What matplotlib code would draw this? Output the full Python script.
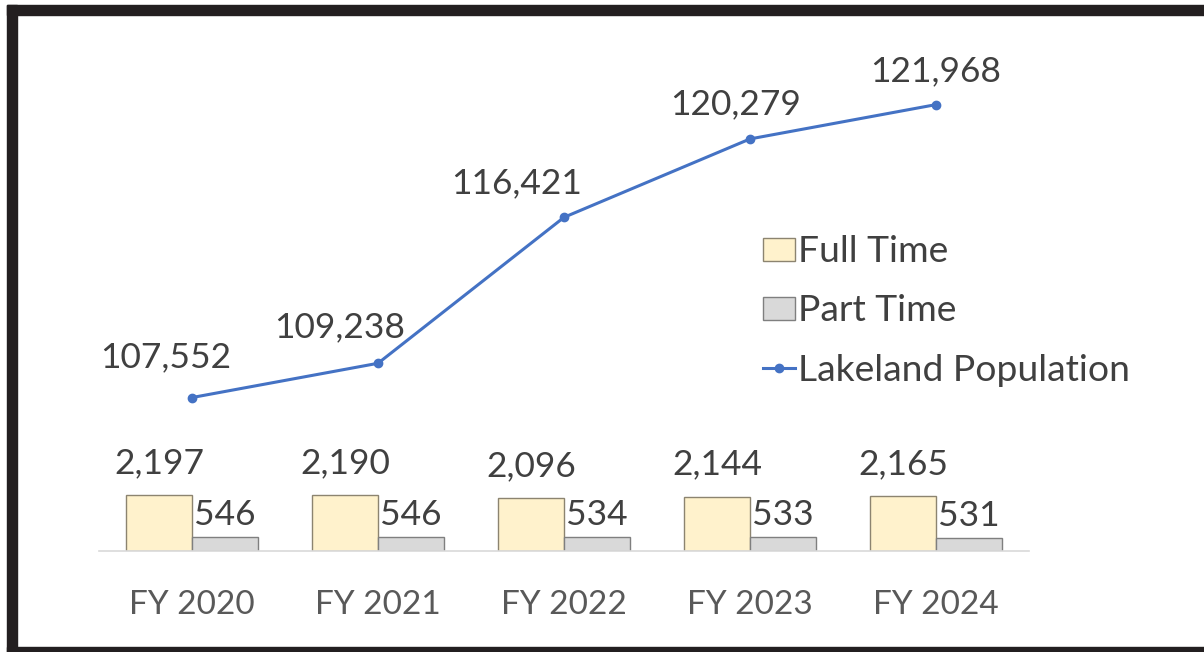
import matplotlib.pyplot as plt
from matplotlib.patches import Rectangle
import numpy as np

plt.rcParams['font.family'] = ['Lato', 'DejaVu Sans']

years = ["FY 2020", "FY 2021", "FY 2022", "FY 2023", "FY 2024"]
full_time = [2197, 2190, 2096, 2144, 2165]
part_time = [546, 546, 534, 533, 531]
population = [107552, 109238, 116421, 120279, 121968]

# label nudges (pixels) for the population labels, as placed in the original
pop_dx = [-26, -38, -47, -14, 0]
pop_dy = [40, 36, 34, 35, 33]

text_col = '#404040'
fs = 25.5

fig = plt.figure(figsize=(12.04, 6.52), dpi=100)
ax = fig.add_axes([99 / 1204, 101 / 652, 930 / 1204, 508 / 652])
ax2 = ax.twinx()

x = np.arange(len(years))
w = 0.355
b1 = ax.bar(x - w / 2, full_time, w, color='#FFF2CC', edgecolor='#8C8470', linewidth=1, label='Full Time')
b2 = ax.bar(x + w / 2, part_time, w, color='#D9D9D9', edgecolor='#7F7F7F', linewidth=1, label='Part Time')
ax.set_ylim(0, 20000)
ax.set_xlim(-0.5, 4.5)

for i in range(len(years)):
    ax.annotate(f"{full_time[i]:,}", (x[i] - w / 2, full_time[i]), xytext=(0, 16),
                textcoords='offset pixels', ha='center', va='bottom', fontsize=fs, color=text_col)
    ax.annotate(f"{part_time[i]:,}", (x[i] + w / 2, part_time[i]), xytext=(0, 6),
                textcoords='offset pixels', ha='center', va='bottom', fontsize=fs, color=text_col)

ln, = ax2.plot(x, population, color='#4472C4', linewidth=2.2, marker='o', markersize=6,
               label='Lakeland Population')
ax2.set_ylim(100000, 125000)
for i in range(len(years)):
    ax2.annotate(f"{population[i]:,}", (x[i], population[i]), xytext=(pop_dx[i], pop_dy[i]),
                 textcoords='offset pixels', ha='center', va='center', fontsize=fs, color=text_col)

for a in (ax, ax2):
    for s in ['top', 'left', 'right']:
        a.spines[s].set_visible(False)
    a.set_yticks([])
ax2.spines['bottom'].set_visible(False)
ax.spines['bottom'].set_color('#D9D9D9')
ax.spines['bottom'].set_linewidth(1.2)
ax.set_xticks(x)
ax.set_xticklabels(years, fontsize=24, color='#595959')
ax.tick_params(axis='x', length=0, pad=28)

lfs = 26.8
handles = [b1, b2, ln]
leg = ax2.legend(handles, ['Full Time', 'Part Time', 'Lakeland Population'],
                 loc='center left', bbox_to_anchor=(763 / 1204, (652 - 311) / 652),
                 bbox_transform=fig.transFigure, frameon=False, fontsize=lfs,
                 handlelength=0.86, handleheight=0.6, handletextpad=0.08, labelspacing=0.7,
                 borderpad=0, borderaxespad=0)
for t in leg.get_texts():
    t.set_color(text_col)

# black frame around the picture
frame = '#231F20'
fig.add_artist(Rectangle((7 / 1204, 637 / 652), 1, 10 / 652, transform=fig.transFigure, color=frame))
fig.add_artist(Rectangle((7 / 1204, 0), 10 / 1204, 647 / 652, transform=fig.transFigure, color=frame))
fig.add_artist(Rectangle((7 / 1204, 0), 1, 5 / 652, transform=fig.transFigure, color=frame))

fig.savefig('out.png', dpi=100)
